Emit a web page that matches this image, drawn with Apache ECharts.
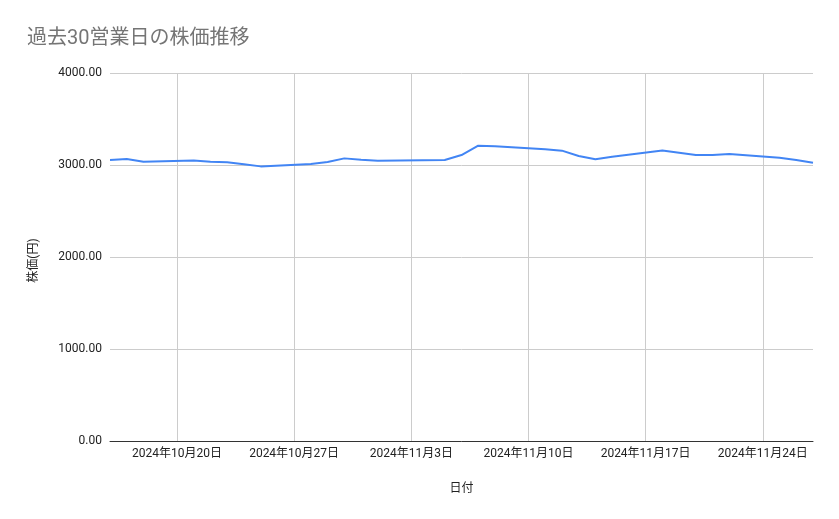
<!DOCTYPE html>
<html>
<head>
<meta charset="utf-8">
<script src="https://cdn.jsdelivr.net/npm/echarts@6/dist/echarts.min.js"></script>
<style>
html,body{margin:0;padding:0;background:#fff;}
#chart{width:839px;height:519px;}
</style>
</head>
<body>
<div id="chart"></div>
<script>
var dates = ['2024-10-16','2024-10-17','2024-10-18','2024-10-21','2024-10-22','2024-10-23','2024-10-24','2024-10-25',
  '2024-10-28','2024-10-29','2024-10-30','2024-10-31','2024-11-01','2024-11-05','2024-11-06','2024-11-07','2024-11-08',
  '2024-11-11','2024-11-12','2024-11-13','2024-11-14','2024-11-15','2024-11-18','2024-11-19','2024-11-20','2024-11-21',
  '2024-11-22','2024-11-25','2024-11-26','2024-11-27'];
var prices = [3055,3065,3035,3050,3035,3030,3008,2985,
  3012,3033,3072,3058,3045,3054,3108,3210,3205,
  3172,3156,3098,3062,3090,3158,3134,3108,3108,
  3120,3080,3054,3025];
var tickDates = ['2024-10-20','2024-10-27','2024-11-03','2024-11-10','2024-11-17','2024-11-24'];
var yTicks = [0,1000,2000,3000,4000];
var xMin = '2024-10-16', xMax = '2024-11-27';
var titleText = '過去30営業日の株価推移';
var xName = '日付', yName = '株価(円)';

function toTs(s){ var p = s.split('-'); return Date.UTC(+p[0], +p[1]-1, +p[2]); }
var FONT = 'Roboto, "Noto Sans CJK JP", sans-serif';
var tickTs = tickDates.map(toTs);
var chart = echarts.init(document.getElementById('chart'));
chart.setOption({
  animation:false,
  backgroundColor:'#ffffff',
  title:{text:titleText,left:27,top:29,padding:0,
    textStyle:{color:'#757575',fontSize:20,fontWeight:'normal',fontFamily:FONT}},
  grid:{left:110,right:26,top:73,bottom:78},
  xAxis:{type:'value',min:toTs(xMin),max:toTs(xMax),
    name:xName,nameLocation:'middle',nameGap:42,
    nameTextStyle:{color:'#222',fontSize:12,fontFamily:FONT},
    axisLine:{show:true,onZero:false,lineStyle:{color:'#333',width:1}},
    axisTick:{show:false,customValues:tickTs},
    axisLabel:{customValues:tickTs,color:'#222',fontSize:12,fontFamily:FONT,margin:7,
      formatter:function(v){var d=new Date(v);return d.getUTCFullYear()+'年'+(d.getUTCMonth()+1)+'月'+d.getUTCDate()+'日';}},
    splitLine:{show:false}
  },
  yAxis:{type:'value',min:yTicks[0],max:yTicks[yTicks.length-1],interval:1000,
    name:yName,nameLocation:'middle',nameGap:70,
    nameTextStyle:{color:'#222',fontSize:12,fontFamily:FONT,padding:[0,7,0,0]},
    axisLine:{show:false},axisTick:{show:false},
    axisLabel:{color:'#222',fontSize:12,fontFamily:FONT,margin:8,formatter:function(v){return v.toFixed(2);}},
    splitLine:{show:true,lineStyle:{color:'#cccccc',width:1}}
  },
  series:[{type:'line',data:dates.map(function(d,i){return [toTs(d),prices[i]];}),
    showSymbol:false,symbol:'none',lineStyle:{color:'#4285F4',width:2},itemStyle:{color:'#4285F4'},
    z:3,
    markLine:{silent:true,symbol:['none','none'],label:{show:false},
      lineStyle:{color:'#cccccc',width:1,type:'solid'},z:1,
      data:tickTs.map(function(t){return {xAxis:t};})}
  }]
});
</script>
</body>
</html>
